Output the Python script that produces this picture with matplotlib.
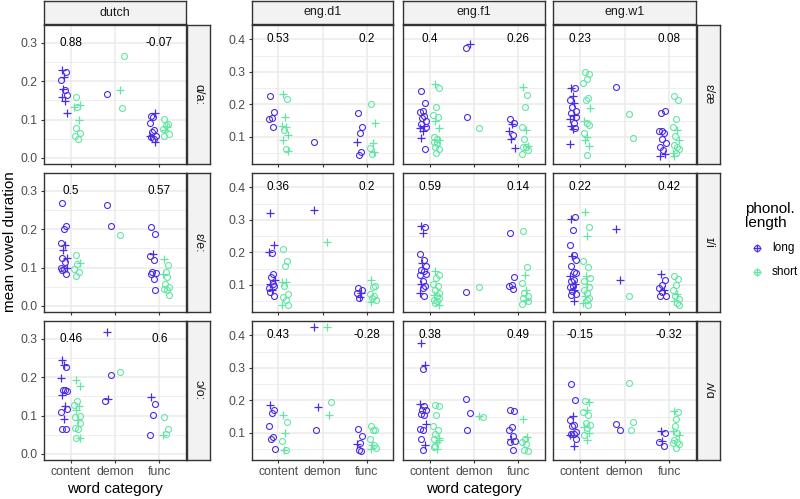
import matplotlib.pyplot as plt
from matplotlib.ticker import MultipleLocator

plt.rcParams['font.family'] = ['Liberation Sans', 'DejaVu Sans']

categories = ["content", "demon", "func"]
languages = ["dutch", "eng.d1", "eng.f1", "eng.w1"]
dutch_vowels = ["ɑ/aː", "ɛ/eː", "ɔ/oː"]
eng_vowels = ["ɛ/æ", "ɪ/i", "ʌ/ɑ"]
length_labels = ["long", "short"]
colors = {"long": "#4B2BE6", "short": "#62E6A4"}

# correlation labels, per language, per vowel row
corr_content = [["0.88", "0.5", "0.46"], ["0.53", "0.36", "0.43"],
                ["0.4", "0.59", "0.38"], ["0.23", "0.22", "-0.15"]]
corr_func = [["-0.07", "0.57", "0.6"], ["0.2", "0.2", "-0.28"],
             ["0.26", "0.14", "0.49"], ["0.08", "0.42", "-0.32"]]

# mean durations: (value, shape)
dutch_aa_long = {
    "content": [(0.229, "+"), (0.223, "o"), (0.212, "+"), (0.203, "o"), (0.177, "o"), (0.179, "+"),
                (0.164, "o"), (0.158, "+"), (0.149, "+"), (0.117, "+")],
    "demon": [(0.166, "o")],
    "func": [(0.110, "o"), (0.117, "+"), (0.106, "o"), (0.092, "o"), (0.072, "o"), (0.067, "o"),
             (0.058, "o"), (0.054, "o"), (0.049, "o"), (0.041, "+"), (0.058, "+")]}
dutch_aa_short = {
    "content": [(0.159, "o"), (0.138, "+"), (0.132, "o"), (0.132, "+"), (0.099, "+"), (0.078, "o"),
                (0.065, "o"), (0.058, "o"), (0.048, "o")],
    "demon": [(0.177, "+"), (0.266, "o"), (0.129, "o")],
    "func": [(0.102, "o"), (0.089, "o"), (0.086, "o"), (0.076, "o"), (0.080, "+"), (0.073, "+"),
             (0.062, "o"), (0.058, "o")]}
dutch_ee_long = {
    "content": [(0.269, "o"), (0.209, "o"), (0.202, "o"), (0.164, "o"), (0.158, "+"), (0.145, "+"),
                (0.125, "+"), (0.125, "o"), (0.115, "o"), (0.100, "+"), (0.100, "o"), (0.097, "o"),
                (0.093, "o"), (0.082, "o")],
    "demon": [(0.263, "o"), (0.208, "o")],
    "func": [(0.206, "o"), (0.189, "o"), (0.135, "+"), (0.131, "o"), (0.121, "o"), (0.089, "o"),
             (0.086, "o"), (0.082, "o"), (0.070, "o"), (0.041, "o")]}
dutch_ee_short = {
    "content": [(0.134, "o"), (0.113, "+"), (0.110, "o"), (0.095, "o"), (0.089, "o"), (0.077, "o")],
    "demon": [(0.184, "o")],
    "func": [(0.122, "+"), (0.106, "o"), (0.089, "o"), (0.082, "+"), (0.076, "o"), (0.057, "o"),
             (0.050, "o"), (0.043, "o"), (0.042, "o"), (0.029, "o")]}
dutch_oo_long = {
    "content": [(0.244, "+"), (0.228, "o"), (0.231, "+"), (0.198, "+"), (0.168, "o"), (0.166, "o"),
                (0.164, "o"), (0.155, "+"), (0.125, "+"), (0.118, "o"), (0.110, "o"), (0.090, "+"),
                (0.065, "o"), (0.064, "o")],
    "demon": [(0.317, "+"), (0.205, "o"), (0.144, "+"), (0.138, "o")],
    "func": [(0.149, "+"), (0.130, "o"), (0.101, "o"), (0.048, "o")]}
dutch_oo_short = {
    "content": [(0.194, "+"), (0.176, "+"), (0.137, "o"), (0.127, "o"), (0.124, "+"), (0.114, "+"),
                (0.099, "o"), (0.095, "o"), (0.088, "+"), (0.080, "o"), (0.067, "o"), (0.064, "o"),
                (0.041, "o"), (0.041, "+")],
    "demon": [(0.215, "o")],
    "func": [(0.097, "o"), (0.065, "o"), (0.052, "o"), (0.049, "+")]}

d1_ae_long = {
    "content": [(0.226, "o"), (0.176, "o"), (0.159, "o"), (0.154, "o"), (0.131, "o")],
    "demon": [(0.086, "o")],
    "func": [(0.175, "o"), (0.131, "o"), (0.111, "o"), (0.086, "+"), (0.055, "o"), (0.045, "o")]}
d1_ae_short = {
    "content": [(0.232, "+"), (0.216, "o"), (0.160, "+"), (0.135, "+"), (0.130, "+"), (0.121, "o"),
                (0.106, "+"), (0.091, "+"), (0.062, "o"), (0.058, "+")],
    "demon": [],
    "func": [(0.201, "o"), (0.144, "+"), (0.083, "+"), (0.065, "o"), (0.055, "+"), (0.048, "o")]}
f1_ae_long = {
    "content": [(0.242, "o"), (0.205, "o"), (0.180, "o"), (0.176, "o"), (0.164, "o"), (0.157, "o"),
                (0.150, "o"), (0.140, "o"), (0.134, "+"), (0.130, "o"), (0.127, "+"), (0.118, "+"),
                (0.098, "+"), (0.063, "o")],
    "demon": [(0.372, "o"), (0.386, "+"), (0.160, "o")],
    "func": [(0.154, "o"), (0.142, "o"), (0.140, "+"), (0.119, "+"), (0.106, "o"), (0.093, "+"),
             (0.067, "+")]}
f1_ae_short = {
    "content": [(0.262, "+"), (0.249, "o"), (0.193, "o"), (0.168, "o"), (0.162, "o"), (0.149, "+"),
                (0.127, "+"), (0.101, "o"), (0.093, "o"), (0.091, "+"), (0.086, "o"), (0.083, "o"),
                (0.070, "o"), (0.062, "o"), (0.052, "o")],
    "demon": [(0.129, "o")],
    "func": [(0.253, "+"), (0.229, "o"), (0.191, "o"), (0.132, "o"), (0.121, "+"), (0.094, "o"),
             (0.072, "+"), (0.070, "o"), (0.070, "o"), (0.060, "o"), (0.048, "o")]}
w1_ae_long = {
    "content": [(0.249, "+"), (0.249, "o"), (0.226, "+"), (0.214, "o"), (0.203, "+"), (0.191, "o"),
                (0.180, "o"), (0.175, "o"), (0.168, "+"), (0.162, "o"), (0.155, "+"), (0.142, "o"),
                (0.134, "+"), (0.129, "o"), (0.124, "+"), (0.079, "+")],
    "demon": [(0.255, "o")],
    "func": [(0.175, "o"), (0.180, "o"), (0.119, "o"), (0.119, "o"), (0.111, "o"), (0.093, "o"),
             (0.081, "o"), (0.068, "o"), (0.060, "o"), (0.048, "+"), (0.042, "+")]}
w1_ae_short = {
    "content": [(0.301, "o"), (0.294, "o"), (0.278, "o"), (0.265, "o"), (0.221, "o"), (0.214, "o"),
                (0.188, "+"), (0.150, "+"), (0.142, "o"), (0.137, "o"), (0.113, "o"), (0.101, "+"),
                (0.091, "+"), (0.072, "+"), (0.045, "o")],
    "demon": [(0.170, "o"), (0.096, "o")],
    "func": [(0.227, "o"), (0.214, "o"), (0.155, "o"), (0.132, "o"), (0.121, "+"), (0.104, "o"),
             (0.091, "+"), (0.075, "o"), (0.070, "o"), (0.062, "o"), (0.052, "+"), (0.050, "o"),
             (0.042, "+")]}

d1_ii_long = {
    "content": [(0.320, "+"), (0.223, "+"), (0.198, "o"), (0.200, "+"), (0.135, "o"), (0.124, "o"),
                (0.116, "+"), (0.104, "+"), (0.104, "o"), (0.098, "o"), (0.091, "o"), (0.086, "+"),
                (0.078, "o"), (0.065, "o")],
    "demon": [(0.331, "+")],
    "func": [(0.091, "o"), (0.084, "o"), (0.063, "+"), (0.076, "o"), (0.076, "+"), (0.060, "o")]}
d1_ii_short = {
    "content": [(0.210, "o"), (0.174, "o"), (0.159, "o"), (0.108, "+"), (0.108, "+"), (0.096, "o"),
                (0.073, "o"), (0.063, "o"), (0.055, "o"), (0.040, "o"), (0.037, "+")],
    "demon": [(0.232, "+")],
    "func": [(0.114, "+"), (0.096, "o"), (0.094, "o"), (0.073, "o"), (0.065, "o"), (0.060, "o"),
             (0.055, "o"), (0.047, "+")]}
f1_ii_long = {
    "content": [(0.282, "+"), (0.277, "o"), (0.259, "+"), (0.195, "o"), (0.178, "o"), (0.167, "+"),
                (0.157, "o"), (0.147, "o"), (0.142, "o"), (0.135, "o"), (0.132, "o"), (0.111, "o"),
                (0.104, "+"), (0.098, "o"), (0.091, "o"), (0.076, "+"), (0.065, "o")],
    "demon": [(0.079, "o")],
    "func": [(0.261, "o"), (0.124, "o"), (0.101, "o"), (0.098, "o"), (0.088, "o")]}
f1_ii_short = {
    "content": [(0.142, "+"), (0.132, "o"), (0.121, "o"), (0.104, "o"), (0.096, "o"), (0.084, "o"),
                (0.076, "o"), (0.070, "+"), (0.065, "o"), (0.060, "o"), (0.055, "o"), (0.050, "o"),
                (0.045, "o"), (0.040, "+")],
    "demon": [(0.093, "o")],
    "func": [(0.267, "o"), (0.154, "o"), (0.132, "+"), (0.106, "o"), (0.086, "+"), (0.076, "o"),
             (0.067, "o"), (0.060, "o"), (0.055, "+"), (0.050, "o"), (0.043, "o")]}
w1_ii_long = {
    "content": [(0.302, "+"), (0.308, "o"), (0.269, "o"), (0.224, "o"), (0.193, "o"), (0.188, "+"),
                (0.176, "o"), (0.157, "o"), (0.139, "o"), (0.137, "o"), (0.127, "+"), (0.116, "o"),
                (0.111, "o"), (0.104, "+"), (0.098, "o"), (0.094, "o"), (0.086, "+"), (0.081, "o"),
                (0.073, "o"), (0.070, "o"), (0.050, "+")],
    "demon": [(0.272, "+"), (0.116, "+")],
    "func": [(0.134, "+"), (0.114, "o"), (0.101, "o"), (0.091, "o"), (0.084, "+"), (0.078, "o"),
             (0.065, "o"), (0.067, "o")]}
w1_ii_short = {
    "content": [(0.324, "+"), (0.277, "o"), (0.251, "+"), (0.173, "o"), (0.154, "o"), (0.129, "+"),
                (0.121, "o"), (0.111, "o"), (0.104, "+"), (0.094, "o"), (0.086, "o"), (0.076, "o"),
                (0.067, "+"), (0.060, "o"), (0.053, "o"), (0.045, "+"), (0.039, "o")],
    "demon": [(0.065, "o")],
    "func": [(0.129, "o"), (0.119, "o"), (0.101, "o"), (0.086, "o"), (0.073, "+"), (0.067, "o"),
             (0.057, "o"), (0.050, "+"), (0.045, "o"), (0.038, "o")]}

d1_uu_long = {
    "content": [(0.187, "+"), (0.170, "o"), (0.161, "o"), (0.121, "o"), (0.088, "o"), (0.081, "o"),
                (0.052, "o")],
    "demon": [(0.425, "+"), (0.180, "+"), (0.110, "o")],
    "func": [(0.113, "o"), (0.090, "o"), (0.069, "o"), (0.065, "+"), (0.045, "o"), (0.047, "o")]}
d1_uu_short = {
    "content": [(0.156, "+"), (0.134, "o"), (0.100, "+"), (0.075, "o"), (0.047, "o"), (0.047, "+")],
    "demon": [(0.425, "+"), (0.195, "o"), (0.156, "+")],
    "func": [(0.120, "o"), (0.108, "o"), (0.108, "o"), (0.083, "o"), (0.062, "o"), (0.062, "+"),
             (0.055, "o"), (0.052, "+")]}
f1_uu_long = {
    "content": [(0.376, "+"), (0.308, "+"), (0.296, "o"), (0.190, "+"), (0.182, "o"), (0.170, "o"),
                (0.172, "o"), (0.159, "o"), (0.156, "o"), (0.129, "+"), (0.113, "o"), (0.108, "o"),
                (0.083, "o"), (0.062, "+"), (0.047, "o")],
    "demon": [(0.203, "o"), (0.161, "o"), (0.110, "o")],
    "func": [(0.172, "o"), (0.168, "o"), (0.118, "o"), (0.110, "o"), (0.090, "o"), (0.083, "+"),
             (0.075, "o"), (0.073, "o"), (0.047, "o")]}
f1_uu_short = {
    "content": [(0.185, "o"), (0.182, "o"), (0.154, "o"), (0.120, "o"), (0.108, "o"), (0.098, "o"),
                (0.086, "+"), (0.083, "o"), (0.072, "+"), (0.077, "+"), (0.057, "o"), (0.052, "+"),
                (0.059, "o")],
    "demon": [(0.152, "+"), (0.149, "o")],
    "func": [(0.144, "+"), (0.088, "+"), (0.083, "o"), (0.073, "o"), (0.065, "o"), (0.049, "o"),
             (0.045, "o")]}
w1_uu_long = {
    "content": [(0.251, "o"), (0.200, "o"), (0.151, "+"), (0.141, "o"), (0.124, "o"), (0.120, "o"),
                (0.103, "o"), (0.098, "o"), (0.098, "o"), (0.083, "o"), (0.093, "+"), (0.059, "+")],
    "demon": [(0.127, "o"), (0.108, "o")],
    "func": [(0.105, "+"), (0.100, "o"), (0.075, "+"), (0.073, "o"), (0.060, "o")]}
w1_uu_short = {
    "content": [(0.198, "o"), (0.195, "+"), (0.170, "+"), (0.164, "o"), (0.154, "o"), (0.131, "o"),
                (0.124, "o"), (0.118, "+"), (0.116, "o"), (0.100, "+"), (0.093, "o"), (0.078, "+")],
    "demon": [(0.254, "o"), (0.134, "o"), (0.110, "o")],
    "func": [(0.168, "+"), (0.165, "o"), (0.144, "o"), (0.105, "+"), (0.100, "o"), (0.120, "o"),
             (0.093, "+"), (0.078, "o"), (0.073, "o"), (0.067, "o"), (0.069, "o"), (0.054, "o")]}

panels = [
    [(dutch_aa_long, dutch_aa_short), (dutch_ee_long, dutch_ee_short), (dutch_oo_long, dutch_oo_short)],
    [(d1_ae_long, d1_ae_short), (d1_ii_long, d1_ii_short), (d1_uu_long, d1_uu_short)],
    [(f1_ae_long, f1_ae_short), (f1_ii_long, f1_ii_short), (f1_uu_long, f1_uu_short)],
    [(w1_ae_long, w1_ae_short), (w1_ii_long, w1_ii_short), (w1_uu_long, w1_uu_short)],
]

# ---- layout (pixels) ----
W, H = 800, 499
col_x = [(44, 186), (252, 393), (403, 545), (553, 696)]
row_y = [(25, 164), (173, 312), (321, 460)]
dodge = {"long": -0.15, "short": 0.15}
jitter = [-0.04, 0.05, 0.0, -0.07, 0.03, -0.02, 0.07, -0.05, 0.02, 0.06, -0.06, 0.01]

DARK = "#333333"
GRID = "#EBEBEB"
STRIP = "#F2F2F2"


def rect(x0, y0, x1, y1):
    return [x0 / W, 1 - y1 / H, (x1 - x0) / W, (y1 - y0) / H]


def strip(x0, y0, x1, y1, label, rot=0):
    s = fig.add_axes(rect(x0, y0, x1, y1))
    s.set_facecolor(STRIP)
    s.set_xticks([])
    s.set_yticks([])
    for sp in s.spines.values():
        sp.set_color(DARK)
        sp.set_linewidth(1)
    s.text(0.5, 0.5, label, transform=s.transAxes, ha="center", va="center",
           rotation=rot, fontsize=9, color="#1A1A1A")


fig = plt.figure(figsize=(W / 100, H / 100), dpi=100)

for c, lang in enumerate(languages):
    x0, x1 = col_x[c]
    dutch = c == 0
    strip(x0, 1, x1, 24, lang)
    for r in range(3):
        y0, y1 = row_y[r]
        ax = fig.add_axes(rect(x0, y0, x1, y1))
        ax.set_axisbelow(True)
        ax.set_xlim(0.4, 3.6)
        if dutch:
            ax.set_ylim(-0.016, 0.347)
            ax.set_yticks([0.0, 0.1, 0.2, 0.3])
            ytxt = 0.3
        else:
            ax.set_ylim(0.017, 0.444)
            ax.set_yticks([0.1, 0.2, 0.3, 0.4])
            ytxt = 0.4
        ax.yaxis.set_minor_locator(MultipleLocator(0.05))
        ax.set_xticks([1, 2, 3])
        ax.grid(True, which="major", color=GRID, lw=1.1)
        ax.grid(True, which="minor", axis="y", color=GRID, lw=0.55)
        ax.tick_params(which="minor", length=0)
        ax.tick_params(which="major", length=2.5, width=0.8, color=DARK, pad=2,
                       labelsize=8.8, labelcolor="#4D4D4D")
        if r == 2:
            ax.set_xticklabels(categories)
        else:
            ax.set_xticklabels([])
        if c > 1:
            ax.set_yticklabels([])
            ax.tick_params(axis="y", length=0)
        else:
            ax.set_yticklabels(["%.1f" % t for t in ax.get_yticks()])
        for sp in ax.spines.values():
            sp.set_color(DARK)
            sp.set_linewidth(1)

        for grp, data in zip(length_labels, panels[c][r]):
            for k, cat in enumerate(categories):
                pts = data.get(cat, [])
                for shape in ["o", "+"]:
                    xs = [k + 1 + dodge[grp] + jitter[i % len(jitter)]
                          for i, (v, s) in enumerate(pts) if s == shape]
                    ys = [v for v, s in pts if s == shape]
                    if not xs:
                        continue
                    if shape == "o":
                        ax.plot(xs, ys, ls="none", marker="o", ms=4.3, mfc="none",
                                mec=colors[grp], mew=0.8)
                    else:
                        ax.plot(xs, ys, ls="none", marker="+", ms=5.5,
                                mec=colors[grp], mew=0.9)

        ax.text(1, ytxt, corr_content[c][r], ha="center", va="center", fontsize=8.5, color="black")
        ax.text(3, ytxt, corr_func[c][r], ha="center", va="center", fontsize=8.5, color="black")

# row strips
for r in range(3):
    y0, y1 = row_y[r]
    strip(187, y0, 210, y1, dutch_vowels[r], rot=-90)
    strip(697, y0, 720, y1, eng_vowels[r], rot=-90)

# axis titles
fig.text(10 / W, 1 - 242 / H, "mean vowel duration", rotation=90, ha="center",
         va="center", fontsize=11)
fig.text(115 / W, 1 - 489 / H, "word category", ha="center", va="center", fontsize=11)
fig.text(474 / W, 1 - 489 / H, "word category", ha="center", va="center", fontsize=11)

# legend
leg = fig.add_axes([0, 0, 1, 1])
leg.set_xlim(0, W)
leg.set_ylim(H, 0)
leg.axis("off")
fig.text(745 / W, 1 - 216 / H, "phonol.\nlength", ha="left", va="center", fontsize=11,
         linespacing=0.95)
for i, grp in enumerate(length_labels):
    ky = 248 + i * 24
    leg.plot([757], [ky], ls="none", marker="o", ms=4.3, mfc="none", mec=colors[grp], mew=0.8)
    leg.plot([757], [ky], ls="none", marker="+", ms=5.5, mec=colors[grp], mew=0.9)
    fig.text(772 / W, 1 - ky / H, grp, ha="left", va="center", fontsize=8.5)

fig.savefig("out.png", dpi=100)
